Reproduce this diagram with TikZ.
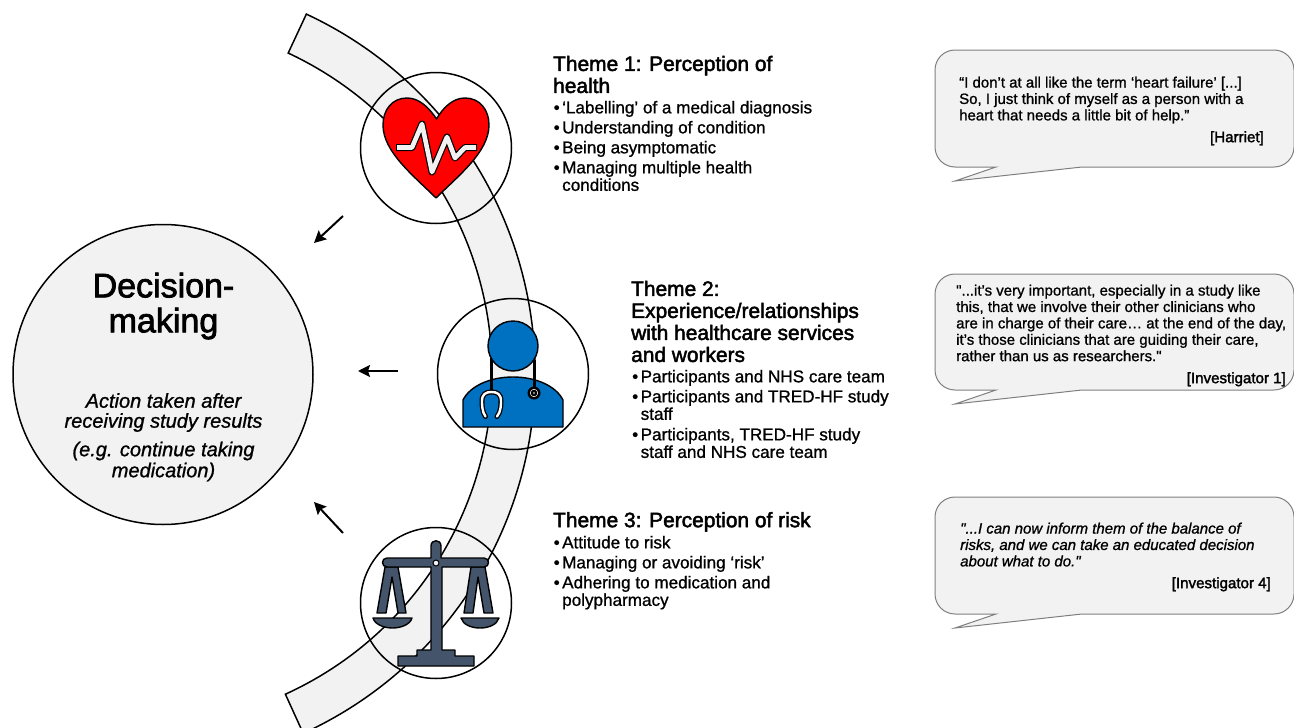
\documentclass[tikz,border=0pt]{standalone}
\usepackage{fontspec}
\setmainfont[Ligatures=TeXOff,FakeBold=1]{Liberation Sans}
\newfontfamily\hvy[Ligatures=TeXOff,FakeBold=2.2]{Liberation Sans}
\newfontfamily\auth[Ligatures=TeXOff,FakeBold=2]{Liberation Sans}
\usetikzlibrary{arrows.meta}
\definecolor{bandgray}{HTML}{F2F2F2}
\definecolor{docblue}{HTML}{0070C0}
\definecolor{slateblue}{HTML}{44546A}
\definecolor{bubbleline}{HTML}{7F7F7F}
\newcommand\bul{\makebox[8.5pt][l]{•}}
\newcommand\hng{\hspace*{8.5pt}}
\newcommand\quotebubble[2]{%
  \draw[bubble] (955,#1) -- (1274,#1) arc[start angle=-90,end angle=0,radius=20]
    -- (1294,#2-20) arc[start angle=0,end angle=90,radius=20]
    -- (1082,#2) -- (955,#2+14) -- (996,#2) -- (955,#2)
    arc[start angle=90,end angle=180,radius=20]
    -- (935,#1+20) arc[start angle=180,end angle=270,radius=20] -- cycle;}
\tikzset{
  x=1pt,y=-1pt,
  band/.style={draw=black,line width=1.5pt,fill=bandgray},
  ring/.style={circle,draw=black,line width=1.5pt,minimum size=151pt,inner sep=0pt},
  bubble/.style={draw=bubbleline,line width=1pt,fill=bandgray},
  flowarrow/.style={draw=black,line width=2pt,-{Stealth[length=12pt,width=12pt,inset=2pt]}},
  heading/.style={anchor=north west,inner sep=0pt,align=left,text=black,
    font=\hvy\fontsize{20.9}{22}\selectfont,execute at begin node=\strut},
  body/.style={anchor=north west,inner sep=0pt,align=left,
    font=\fontsize{17.1}{17.5}\selectfont,execute at begin node=\strut},
  quote/.style={anchor=north west,inner sep=0pt,align=left,
    font=\fontsize{15}{16.4}\selectfont,execute at begin node=\strut},
  author/.style={anchor=north east,inner sep=0pt,
    font=\auth\fontsize{15.1}{16.4}\selectfont,execute at begin node=\strut},
  icon/.style={draw=black,line width=1.4pt,line join=round},
}
\begin{document}
\begin{tikzpicture}
\useasboundingbox (0,0) rectangle (1294,728);
% band
\draw[band] ([shift={(139,373)}]-65:396) arc[start angle=-65,end angle=65.5,radius=396]
  -- ([shift={(139,373)}]65.5:353) arc[start angle=65.5,end angle=-65,radius=353] -- cycle;
% decision circle
\node[circle,draw=black,line width=1.5pt,fill=bandgray,minimum size=300pt,inner sep=0pt] (decision) at (163,374.5) {};
\node[anchor=north,inner sep=0pt,align=center,font=\hvy\fontsize{34}{35}\selectfont,execute at begin node=\strut] (dtitle) at (163.5,272.5) {Decision-\\making};
\node[anchor=north,inner sep=0pt,align=center,font=\fontsize{20}{20}\itshape\selectfont,execute at begin node=\strut] (dsub1) at (163.5,393) {Action taken after\\receiving study results};
\node[anchor=north,inner sep=0pt,align=center,font=\fontsize{20}{21}\itshape\selectfont,execute at begin node=\strut] (dsub2) at (163.5,441.5) {(e.g. continue taking\\medication)};
% icon rings
\node[ring] (ring1) at (436,148) {};
\node[ring] (ring2) at (513,374) {};
\node[ring] (ring3) at (436,603) {};
% heart
\draw[icon,fill=red] (436.5,119) .. controls (428,106) and (418,98) .. (407,98)
  .. controls (392,98) and (383,110) .. (383,125)
  .. controls (383,152) and (414,176) .. (436,198)
  .. controls (458,176) and (489,152) .. (489,125)
  .. controls (489,110) and (480,98) .. (465,98)
  .. controls (454,98) and (444,106) .. (436.5,119) -- cycle;
\draw[black,line width=7pt,line join=round] (396,147.5) -- (412,147.5) -- (422,124) -- (432,172) -- (447,137) -- (455,158) -- (465,147.5) -- (477,147.5);
\draw[bandgray,line width=4.6pt,line join=round] (397,147.5) -- (412,147.5) -- (422,124) -- (432,172) -- (447,137) -- (455,158) -- (465,147.5) -- (476,147.5);
% doctor
\draw[icon,fill=docblue] (463,427) -- (463,400) .. controls (470,386) and (490,377) .. (513,377)
  .. controls (536,377) and (556,386) .. (563,400) -- (563,427) -- cycle;
\draw[black,line width=3pt] (491,358) -- (491,392);
\draw[black,line width=3pt] (534,360) -- (534,392);
\node[circle,draw=black,line width=1.4pt,fill=docblue,minimum size=50pt,inner sep=0pt] (head) at (513,346) {};
\draw[black,line width=5pt,line cap=round] (485.5,416.5) .. controls (482,412) and (482,404) .. (482,401)
  .. controls (482,394) and (486,392) .. (491.5,392) .. controls (497,392) and (501,394) .. (501,401)
  .. controls (501,404) and (501,412) .. (497,416.5);
\draw[white,line width=2.4pt,line cap=round] (485.5,416.5) .. controls (482,412) and (482,404) .. (482,401)
  .. controls (482,394) and (486,392) .. (491.5,392) .. controls (497,392) and (501,394) .. (501,401)
  .. controls (501,404) and (501,412) .. (497,416.5);
\fill[black] (534,393) circle[radius=6.5];
\draw[white,line width=.5pt] (534,393) circle[radius=3.8];
\fill[white] (534,393) circle[radius=.8];
% scales
\draw[icon,fill=slateblue] (385,567) -- (377,613) -- (386,613) -- (392,577) -- (398,613) -- (406,613) -- (398,567) -- cycle;
\draw[icon,fill=slateblue] (471,567) -- (464,613) -- (473,613) -- (478,577) -- (484,613) -- (493,613) -- (485,567) -- cycle;
\draw[icon,fill=slateblue] (373,618) -- (412,618) .. controls (410,625) and (400,628) .. (392.5,628) .. controls (385,628) and (375,625) .. (373,618) -- cycle;
\draw[icon,fill=slateblue] (461,618) -- (499,618) .. controls (497,625) and (488,628) .. (480,628) .. controls (472,628) and (463,625) .. (461,618) -- cycle;
\draw[icon,fill=slateblue] (398,656) -- (417,656) -- (417,650) -- (431,650) -- (431,567) -- (387,567)
  .. controls (381,567) and (381,558) .. (387,558) -- (431,558) -- (431,546)
  .. controls (431,539) and (441,539) .. (441,546) -- (441,558) -- (484,558)
  .. controls (490,558) and (490,567) .. (484,567) -- (442,567) -- (442,650) -- (455,650) -- (455,656) -- (474,656) -- (474,666) -- (398,666) -- cycle;
\draw[black,line width=1pt,fill=bandgray] (436,563) circle[radius=3];
% arrows
\coordinate (a1s) at (343,216); \coordinate (a1e) at (314,243);
\coordinate (a2s) at (398,371); \coordinate (a2e) at (358,371);
\coordinate (a3s) at (343,533); \coordinate (a3e) at (314,502);
\draw[flowarrow] (a1s) -- (a1e);
\draw[flowarrow] (a2s) -- (a2e);
\draw[flowarrow] (a3s) -- (a3e);
% theme 1
\node[heading] (t1h) at (553,55.6) {Theme 1: Perception of\\health};
\node[body] (t1a) at (553.5,100.75) {\bul ‘Labelling’ of a medical diagnosis};
\node[body] (t1b) at (553.5,120.75) {\bul Understanding of condition};
\node[body] (t1c) at (553.5,140.75) {\bul Being asymptomatic};
\node[body] (t1d) at (553.5,160.75) {\bul Managing multiple health\\\hng conditions};
% theme 2
\node[heading] (t2h) at (631,280.6) {Theme 2:\\Experience/relationships\\with healthcare services\\and workers};
\node[body] (t2a) at (632,369.75) {\bul Participants and NHS care team};
\node[body] (t2b) at (632,389.75) {\bul Participants and TRED-HF study\\\hng staff};
\node[body] (t2c) at (632,427.75) {\bul Participants, TRED-HF study\\\hng staff and NHS care team};
% theme 3
\node[heading] (t3h) at (553,511.6) {Theme 3: Perception of risk};
\node[body] (t3a) at (553.5,535.75) {\bul Attitude to risk};
\node[body] (t3b) at (553.5,555.75) {\bul Managing or avoiding ‘risk’};
\node[body] (t3c) at (553.5,575.75) {\bul Adhering to medication and\\\hng polypharmacy};
% quotes
\quotebubble{50}{167}
\quotebubble{274}{390}
\quotebubble{497}{614}
\node[quote] (q1) at (959,76.5) {“I don’t at all like the term ‘heart failure’ [...]\\So, I just think of myself as a person with a\\heart that needs a little bit of help.”};
\node[author] (q1a) at (1264,130.5) {[Harriet]};
\node[quote] (q2) at (956,284.5) {"...it’s very important, especially in a study like\\this, that we involve their other clinicians who\\are in charge of their care… at the end of the day,\\it’s those clinicians that are guiding their care,\\rather than us as researchers."};
\node[author] (q2a) at (1286,371.5) {[Investigator 1]};
\node[quote,font=\fontsize{15}{16.4}\itshape\selectfont] (q3) at (960,522.5) {"...I can now inform them of the balance of\\risks, and we can take an educated decision\\about what to do."};
\node[author] (q3a) at (1271,576.5) {[Investigator 4]};
\end{tikzpicture}
\end{document}
